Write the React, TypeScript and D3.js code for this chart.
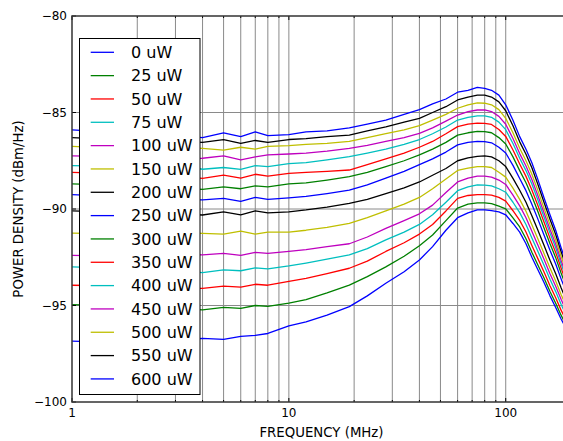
import React from "react";
import * as d3 from "d3";

const FREQ = [1, 2, 3, 4, 5, 6, 7, 8, 10, 12, 15, 19, 23, 28, 34, 40, 46, 53, 60, 67, 74, 80, 86, 93, 100, 108, 116, 124, 132, 140, 150, 160, 170, 180, 190, 200];

// Power density (dBm/Hz) per optical power
const S0 = [-96.85, -96.95, -96.8, -96.7, -96.75, -96.6, -96.55, -96.45, -96.05, -95.85, -95.5, -95.06, -94.5, -93.85, -93.25, -92.64, -91.95, -91.1, -90.45, -90.2, -90.05, -90.05, -90.08, -90.15, -90.3, -90.75, -91.2, -91.8, -92.5, -93.1, -93.8, -94.5, -95.1, -95.7, -96.2, -96.7];
const S25 = [-94.95, -95.05, -95.15, -95.23, -95.1, -95.15, -95.0, -95.05, -94.88, -94.7, -94.35, -93.94, -93.5, -93.0, -92.45, -91.9, -91.35, -90.6, -89.95, -89.75, -89.68, -89.68, -89.72, -89.85, -89.99, -90.46, -90.93, -91.54, -92.24, -92.85, -93.56, -94.27, -94.88, -95.5, -96.02, -96.53];
const S50 = [-93.95, -94.0, -94.1, -94.11, -94.0, -94.05, -93.9, -93.95, -93.75, -93.6, -93.35, -93.07, -92.7, -92.2, -91.75, -91.3, -90.8, -90.1, -89.45, -89.3, -89.25, -89.25, -89.28, -89.4, -89.59, -90.09, -90.59, -91.19, -91.89, -92.52, -93.25, -93.98, -94.6, -95.24, -95.78, -96.32];
const S75 = [-93.0, -93.1, -93.2, -93.3, -93.15, -93.2, -93.05, -93.1, -92.95, -92.8, -92.6, -92.38, -92.05, -91.6, -91.2, -90.8, -90.3, -89.65, -89.05, -88.85, -88.75, -88.76, -88.8, -88.95, -89.13, -89.65, -90.19, -90.8, -91.5, -92.14, -92.9, -93.64, -94.28, -94.94, -95.5, -96.06];
const S100 = [-92.4, -92.45, -92.35, -92.38, -92.3, -92.4, -92.25, -92.3, -92.2, -92.1, -91.95, -91.8, -91.45, -91.0, -90.6, -90.25, -89.8, -89.15, -88.6, -88.4, -88.3, -88.3, -88.35, -88.5, -88.73, -89.28, -89.84, -90.45, -91.15, -91.81, -92.59, -93.35, -94.0, -94.68, -95.27, -95.85];
const S150 = [-91.25, -91.3, -91.2, -91.26, -91.3, -91.15, -91.3, -91.2, -91.2, -91.1, -90.95, -90.75, -90.45, -90.1, -89.75, -89.4, -88.95, -88.45, -88.0, -87.88, -87.8, -87.8, -87.85, -88.1, -88.35, -88.92, -89.5, -90.12, -90.82, -91.49, -92.29, -93.06, -93.73, -94.43, -95.03, -95.64];
const S200 = [-90.1, -90.2, -90.25, -90.31, -90.15, -90.3, -90.1, -90.2, -90.15, -90.05, -89.9, -89.71, -89.5, -89.2, -88.9, -88.6, -88.25, -87.9, -87.5, -87.35, -87.27, -87.25, -87.3, -87.5, -87.8, -88.41, -89.03, -89.65, -90.35, -91.04, -91.87, -92.66, -93.35, -94.08, -94.71, -95.34];
const S250 = [-89.25, -89.4, -89.5, -89.53, -89.45, -89.6, -89.4, -89.5, -89.42, -89.35, -89.2, -89.02, -88.75, -88.4, -88.05, -87.7, -87.4, -87.05, -86.68, -86.55, -86.5, -86.51, -86.57, -86.8, -87.1, -87.74, -88.42, -89.05, -89.75, -90.46, -91.33, -92.14, -92.85, -93.62, -94.29, -94.96];
const S300 = [-88.7, -88.8, -88.9, -88.98, -88.85, -88.95, -88.8, -88.85, -88.7, -88.65, -88.5, -88.32, -88.1, -87.8, -87.5, -87.2, -86.9, -86.55, -86.17, -86.05, -85.98, -85.99, -86.05, -86.3, -86.63, -87.3, -88.01, -88.64, -89.34, -90.07, -90.97, -91.8, -92.52, -93.32, -94.01, -94.7];
const S350 = [-88.1, -88.2, -88.3, -88.41, -88.25, -88.4, -88.2, -88.3, -88.15, -88.1, -88.05, -87.98, -87.7, -87.4, -87.1, -86.8, -86.5, -86.1, -85.73, -85.6, -85.55, -85.56, -85.62, -85.88, -86.24, -86.94, -87.67, -88.31, -89.01, -89.75, -90.66, -91.51, -92.25, -93.06, -93.78, -94.49];
const S400 = [-87.75, -87.8, -87.7, -87.94, -87.85, -87.95, -87.75, -87.8, -87.65, -87.6, -87.45, -87.29, -87.1, -86.9, -86.65, -86.4, -86.1, -85.75, -85.39, -85.25, -85.18, -85.18, -85.25, -85.5, -85.89, -86.61, -87.37, -88.01, -88.71, -89.47, -90.4, -91.25, -92.01, -92.84, -93.57, -94.3];
const S450 = [-87.25, -87.3, -87.4, -87.37, -87.25, -87.45, -87.3, -87.2, -87.15, -87.1, -87.0, -86.86, -86.7, -86.5, -86.3, -86.08, -85.8, -85.45, -85.13, -84.95, -84.87, -84.87, -84.95, -85.2, -85.61, -86.35, -87.13, -87.77, -88.47, -89.24, -90.18, -91.05, -91.81, -92.66, -93.41, -94.15];
const S500 = [-86.75, -86.9, -86.8, -86.86, -86.95, -86.8, -86.9, -86.75, -86.72, -86.65, -86.6, -86.5, -86.3, -86.1, -85.9, -85.68, -85.4, -85.1, -84.78, -84.6, -84.5, -84.52, -84.6, -84.85, -85.3, -86.05, -86.85, -87.5, -88.2, -88.97, -89.94, -90.81, -91.59, -92.45, -93.21, -93.98];
const S550 = [-86.3, -86.45, -86.5, -86.55, -86.4, -86.6, -86.45, -86.55, -86.4, -86.35, -86.25, -86.17, -85.95, -85.75, -85.5, -85.3, -85.0, -84.7, -84.35, -84.2, -84.1, -84.1, -84.2, -84.45, -84.91, -85.69, -86.52, -87.16, -87.86, -88.65, -89.64, -90.53, -91.32, -92.2, -92.98, -93.77];
const S600 = [-85.9, -86.1, -86.2, -86.3, -86.05, -86.25, -86.0, -86.2, -86.15, -86.0, -85.95, -85.8, -85.6, -85.4, -85.1, -84.85, -84.55, -84.3, -83.95, -83.85, -83.7, -83.75, -83.85, -84.1, -84.6, -85.4, -86.25, -86.9, -87.6, -88.4, -89.4, -90.3, -91.1, -92.0, -92.8, -93.6];

const LABELS = ["0 uW", "25 uW", "50 uW", "75 uW", "100 uW", "150 uW", "200 uW", "250 uW", "300 uW", "350 uW", "400 uW", "450 uW", "500 uW", "550 uW", "600 uW"];
const SERIES = [S0, S25, S50, S75, S100, S150, S200, S250, S300, S350, S400, S450, S500, S550, S600];
const COLORS = ["#0000ff", "#008000", "#ff0000", "#00bfbf", "#bf00bf", "#bfbf00", "#000000"];

const Y_TICKS = [-100, -95, -90, -85, -80];
const X_MAJOR = [1, 10, 100];
const X_MINOR = [2, 3, 4, 5, 6, 7, 8, 9, 20, 30, 40, 50, 60, 70, 80, 90];

const W = 563;
const H = 441;
const L = 72;
const T = 16;
const B = 402;
const R = 571;
const FONT = "DejaVu Sans, Liberation Sans, sans-serif";

export default function App() {
  const x = d3.scaleLog().domain([1, 200]).range([L, R]);
  const y = d3.scaleLinear().domain([-100, -80]).range([B, T]);
  const line = d3
    .line<number>()
    .x((_, i) => x(FREQ[i]))
    .y((d) => y(d));

  const legX = 79.5;
  const legY = 38.5;
  const legW = 120.5;
  const legH = 356;
  const rowStep = 23.33;
  const row0 = 52.3;

  return (
    <svg
      width={W}
      height={H}
      style={{ position: "absolute", left: 0, top: 0, background: "#fff" }}
      fontFamily={FONT}
    >
      <defs>
        <clipPath id="plot">
          <rect x={L} y={T} width={R - L} height={B - T} />
        </clipPath>
      </defs>
      <rect x={0} y={0} width={W} height={H} fill="#fff" />

      {/* grid */}
      <g stroke="#8a8a8a" strokeWidth={1}>
        {[...X_MAJOR.slice(1), ...X_MINOR].map((v) => (
          <line key={"gx" + v} x1={x(v)} x2={x(v)} y1={T} y2={B} />
        ))}
        {[-95, -90, -85].map((v) => (
          <line key={"gy" + v} x1={L} x2={R} y1={y(v)} y2={y(v)} />
        ))}
      </g>

      {/* series */}
      <g clipPath="url(#plot)" fill="none" strokeWidth={1.3} strokeLinejoin="round">
        {SERIES.map((s, i) => (
          <path key={LABELS[i]} d={line(s) || ""} stroke={COLORS[i % COLORS.length]} />
        ))}
      </g>

      {/* ticks */}
      <g stroke="#000" strokeWidth={1}>
        {X_MAJOR.map((v) => (
          <g key={"tx" + v}>
            <line x1={x(v)} x2={x(v)} y1={B} y2={B - 4} />
            <line x1={x(v)} x2={x(v)} y1={T} y2={T + 4} />
          </g>
        ))}
        {X_MINOR.map((v) => (
          <g key={"tm" + v}>
            <line x1={x(v)} x2={x(v)} y1={B} y2={B - 2} />
            <line x1={x(v)} x2={x(v)} y1={T} y2={T + 2} />
          </g>
        ))}
        {Y_TICKS.map((v) => (
          <line key={"ty" + v} x1={L} x2={L + 4} y1={y(v)} y2={y(v)} />
        ))}
      </g>

      {/* frame */}
      <rect x={L} y={T} width={R - L} height={B - T} fill="none" stroke="#333" strokeWidth={1.5} />

      {/* tick labels */}
      <g fontSize={12} fill="#000">
        {Y_TICKS.map((v) => (
          <text key={"ly" + v} x={L - 5} y={y(v) + 4.4} textAnchor="end">
            {"\u2212" + Math.abs(v)}
          </text>
        ))}
        {X_MAJOR.map((v) => (
          <text key={"lx" + v} x={x(v)} y={417} textAnchor="middle">
            {String(v)}
          </text>
        ))}
      </g>
      <g fontSize={13.3} fill="#000">
        <text x={(L + R) / 2} y={436.5} textAnchor="middle">
          FREQUENCY (MHz)
        </text>
        <text transform={`translate(23, ${(T + B) / 2}) rotate(-90)`} textAnchor="middle">
          POWER DENSITY (dBm/Hz)
        </text>
      </g>

      {/* legend */}
      <g>
        <rect x={legX} y={legY} width={legW} height={legH} fill="#fff" stroke="#000" strokeWidth={1} />
        {LABELS.map((lab, i) => {
          const cy = row0 + i * rowStep;
          return (
            <g key={"lg" + lab}>
              <line x1={90.7} x2={114} y1={cy} y2={cy} stroke={COLORS[i % COLORS.length]} strokeWidth={1.3} />
              <text x={131} y={cy + 5.6} fontSize={16} fill="#000">
                {lab}
              </text>
            </g>
          );
        })}
      </g>
    </svg>
  );
}
